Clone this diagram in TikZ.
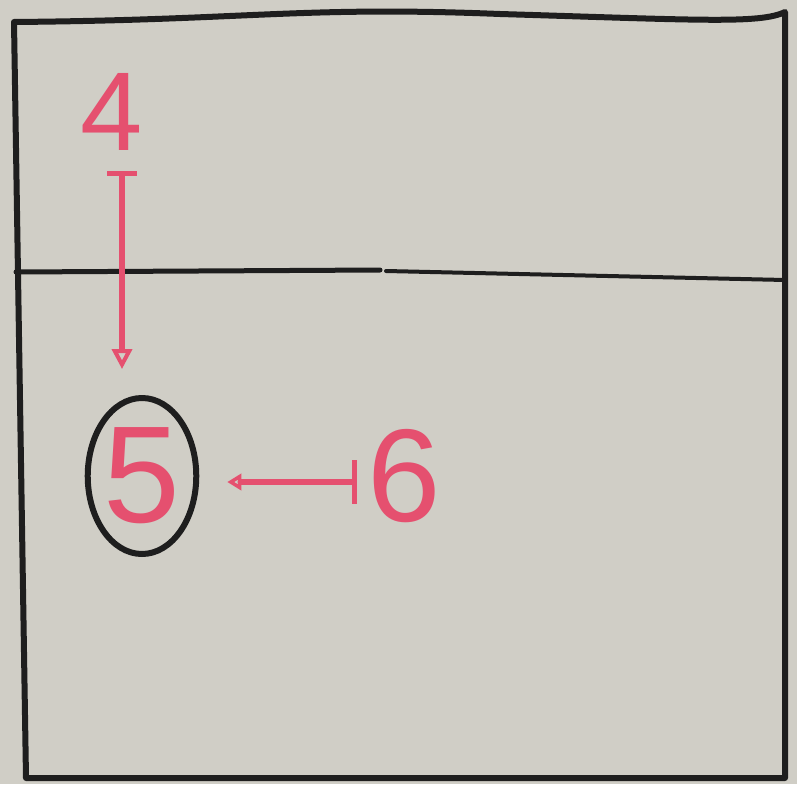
\documentclass[tikz,border=0pt]{standalone}
\usepackage{fontspec}
\setsansfont{Liberation Sans}
\definecolor{BoardGrey}{HTML}{D0CEC6}
\definecolor{MarkerRed}{HTML}{E5506F}
\definecolor{MarkerBlack}{HTML}{1E1E1E}
\usetikzlibrary{arrows.meta, positioning, calc, shapes.geometric}

\tikzset{
  digit/.style={text=MarkerRed, font=\sffamily\fontsize{#1}{#1}\selectfont, inner sep=0pt},
  redpen/.style={draw=MarkerRed, line width=5.5pt, line cap=round},
  blackpen/.style={draw=MarkerBlack, line width=6pt, line cap=round, line join=round}
}

\begin{document}
\begin{tikzpicture}[x=1pt, y=-1pt, >=Stealth]
  % Board
  \fill[BoardGrey] (0,0) rectangle (797,784);
  \useasboundingbox (0,0) rectangle (797,784);

  % Frame and divider
  \draw[blackpen] (14,22) .. controls (250,20) and (300,6) .. (500,14)
    .. controls (700,20) and (760,24) .. (785,12) -- (785,778) -- (26,778) -- (14,22);
  \draw[blackpen, line width=5pt] (16,272) -- (380,270);
  \draw[blackpen, line width=4pt] (386,271) -- (785,280);

  % Labels
  \node[digit=112] (n4) at (112,112) {4};
  \node[ellipse, blackpen, minimum width=106pt, minimum height=156pt,
        digit=138] (n5) at (142,476) {5};
  \node[digit=132] (n6) at (404,476) {6};

  % Arrows
  \draw[redpen, {Bar[width=30pt, line width=5pt]}-{Triangle[open, length=20pt, width=20pt, line width=4pt]},
        shorten <=20pt, shorten >=26pt]
    ([xshift=10pt]n4.south) -- ([xshift=-20pt]n5.north);
  \draw[redpen, {Bar[width=44pt, line width=5pt]}-{Triangle[open, length=14pt, width=16pt, line width=4pt]},
        shorten <=10pt, shorten >=28pt]
    ([yshift=-6pt]n6.west) -- ([yshift=-6pt]n5.east);
\end{tikzpicture}
\end{document}
